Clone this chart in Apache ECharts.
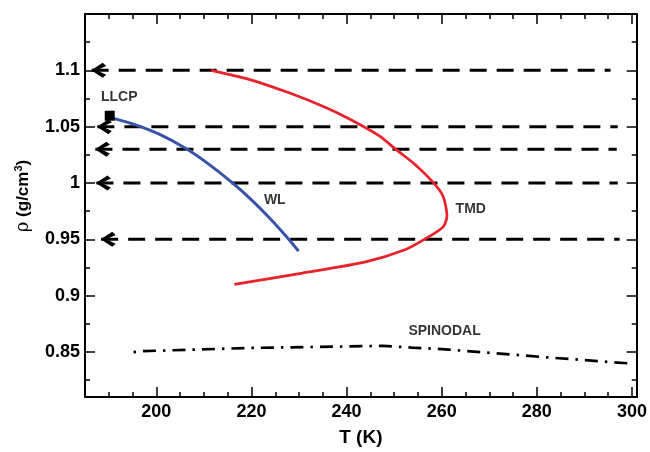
<!DOCTYPE html>
<html>
<head>
<meta charset="utf-8">
<script src="https://cdn.jsdelivr.net/npm/echarts@6/dist/echarts.min.js"></script>
<style>html,body{margin:0;padding:0;background:#fff}#c{width:650px;height:452px}</style>
</head>
<body>
<div id="c"></div>
<script>
// ---- data ----
const xMajor = [200, 220, 240, 260, 280, 300];
const xMinor = [185, 190, 195, 205, 210, 215, 225, 230, 235, 245, 250, 255, 265, 270, 275, 285, 290, 295];
const yMajor = [0.85, 0.9, 0.95, 1.0, 1.05, 1.1];
const yMinor = [0.825, 0.875, 0.925, 0.975, 1.025, 1.075, 1.125];

// TMD (red)
const tmdT   = [211.5, 219.5, 227.9, 235.6, 240.5, 246.8, 250.3, 254.5, 258.3, 260.3, 261.1, 260.3, 256.8, 252.4, 244.0, 230.7, 216.4];
const tmdRho = [1.100, 1.092, 1.080, 1.067, 1.057, 1.042, 1.030, 1.016, 1.000, 0.988, 0.971, 0.961, 0.951, 0.941, 0.930, 0.920, 0.910];

// WL (blue)
const wlT   = [190.2, 195.0, 200.5, 206.3, 211.0, 216.0, 220.0, 223.7, 227.0, 229.9];
const wlRho = [1.058, 1.0525, 1.0435, 1.0303, 1.0167, 1.000, 0.985, 0.9693, 0.954, 0.9395];

// LLCP point
const llcp = [190.2, 1.0597];

// Spinodal (dash-dot)
const spT   = [195.2, 197.2, 220.2, 234.2, 247.5, 253.7, 261.5, 282.4, 299.5];
const spRho = [0.8498, 0.8507, 0.8536, 0.8545, 0.8554, 0.8539, 0.8521, 0.8451, 0.8398];

// isochore arrows (dashed)
const isoRho   = [1.10, 1.05, 1.03, 1.00, 0.95];
const isoStart = [186.4, 187.6, 187.2, 187.4, 188.4];
const isoEnd   = [295.5, 297.0, 296.8, 297.0, 297.4];

// annotations
const labelText = ['LLCP', 'WL', 'TMD', 'SPINODAL'];
const labelT    = [192.2, 224.9, 266.1, 260.6];
const labelRho  = [1.0759, 0.9844, 0.9767, 0.8683];

// ---- chart ----
const FONT = '"Liberation Sans", Arial, Helvetica, sans-serif';
const zip = (a, b) => a.map((v, i) => [v, b[i]]);
const chart = echarts.init(document.getElementById('c'), null, {renderer: 'canvas'});

const XMIN = 185, XMAX = 301, YMIN = 0.81, YMAX = 1.15;
function xAx(pos, major, withLine) {
  return {
    type: 'value', min: XMIN, max: XMAX, position: pos, gridIndex: 0,
    axisLine: {show: withLine, onZero: false, lineStyle: {color: '#000', width: 2}},
    axisTick: {show: true, inside: true, length: major ? 10 : 5, customValues: major ? xMajor : xMinor,
               lineStyle: {color: '#000', width: 1.5}},
    axisLabel: {show: major && pos === 'bottom', customValues: xMajor, margin: 6,
                color: '#000', fontSize: 18, fontWeight: 'bold', fontFamily: FONT},
    splitLine: {show: false},
    name: (major && pos === 'bottom') ? 'T (K)' : '',
    nameLocation: 'middle', nameGap: 31,
    nameTextStyle: {color: '#000', fontSize: 19, fontWeight: 'bold', fontFamily: FONT}
  };
}
function yAx(pos, major, withLine) {
  return {
    type: 'value', min: YMIN, max: YMAX, position: pos, gridIndex: 0,
    axisLine: {show: withLine, onZero: false, lineStyle: {color: '#000', width: 2}},
    axisTick: {show: true, inside: true, length: major ? 10 : 5, customValues: major ? yMajor : yMinor,
               lineStyle: {color: '#000', width: 1.5}},
    axisLabel: {show: major && pos === 'left', customValues: yMajor, margin: 5,
                color: '#000', fontSize: 18, fontWeight: 'bold', fontFamily: FONT},
    splitLine: {show: false},
    name: (major && pos === 'left') ? '{rho|ρ} (g/cm{sup|3})' : '',
    nameLocation: 'middle', nameGap: 52, nameRotate: 90,
    nameTextStyle: {color: '#000', fontSize: 17, fontWeight: 'bold', fontFamily: FONT,
      padding: [0, 0, 0, 19],
      rich: {
        rho: {fontSize: 18, fontWeight: 'normal', fontFamily: '"DejaVu Serif", serif', color: '#000'},
        sup: {fontSize: 11, fontWeight: 'bold', fontFamily: FONT, color: '#000', padding: [0, 0, 9, 0]}
      }}
  };
}

const arrowPath = 'path://M12.3,0 L16,3.3 L6,8 L16,12.7 L12.3,16 L0,8 Z';

const series = [];
isoRho.forEach((r, i) => {
  series.push({
    type: 'line', silent: true, z: 3,
    symbol: arrowPath, symbolSize: [15, 15], symbolOffset: [7, 0], showSymbol: true,
    itemStyle: {color: '#000', opacity: 1},
    lineStyle: {color: '#000', width: 3, type: [17, 10], cap: 'butt'},
    data: [
      {value: [isoStart[i], r]},
      {value: [isoEnd[i], r], symbol: 'none'}
    ]
  });
});
series.push({
  type: 'line', silent: true, z: 4, symbol: 'none', smooth: 0.25,
  lineStyle: {color: '#e8222a', width: 2.7},
  data: zip(tmdT, tmdRho)
});
series.push({
  type: 'line', silent: true, z: 4, symbol: 'none', smooth: 0.4,
  lineStyle: {color: '#3653a8', width: 3},
  data: zip(wlT, wlRho)
});
series.push({
  type: 'scatter', silent: true, z: 5, symbol: 'rect', symbolSize: 10,
  itemStyle: {color: '#000', opacity: 1},
  data: [llcp]
});
series.push({
  type: 'line', silent: true, z: 4, symbol: 'none',
  lineStyle: {color: '#000', width: 2.7, type: [2.5, 7, 13, 7], cap: 'butt'},
  data: zip(spT, spRho)
});
series.push({
  type: 'scatter', silent: true, z: 6, symbolSize: 0,
  label: {show: true, position: 'inside', formatter: p => p.data.name,
          color: '#000', fontSize: 14, fontWeight: 'bold', fontFamily: FONT},
  data: labelText.map((t, i) => ({name: t, value: [labelT[i], labelRho[i]]}))
});

chart.setOption({
  animation: false,
  backgroundColor: '#fff',
  grid: {left: 85, right: 11, top: 14, bottom: 51, containLabel: false},
  xAxis: [xAx('bottom', true, true), xAx('bottom', false, false), xAx('top', true, true), xAx('top', false, false)],
  yAxis: [yAx('left', true, true), yAx('left', false, false), yAx('right', true, true), yAx('right', false, false)],
  series: series
});
</script>
</body>
</html>
